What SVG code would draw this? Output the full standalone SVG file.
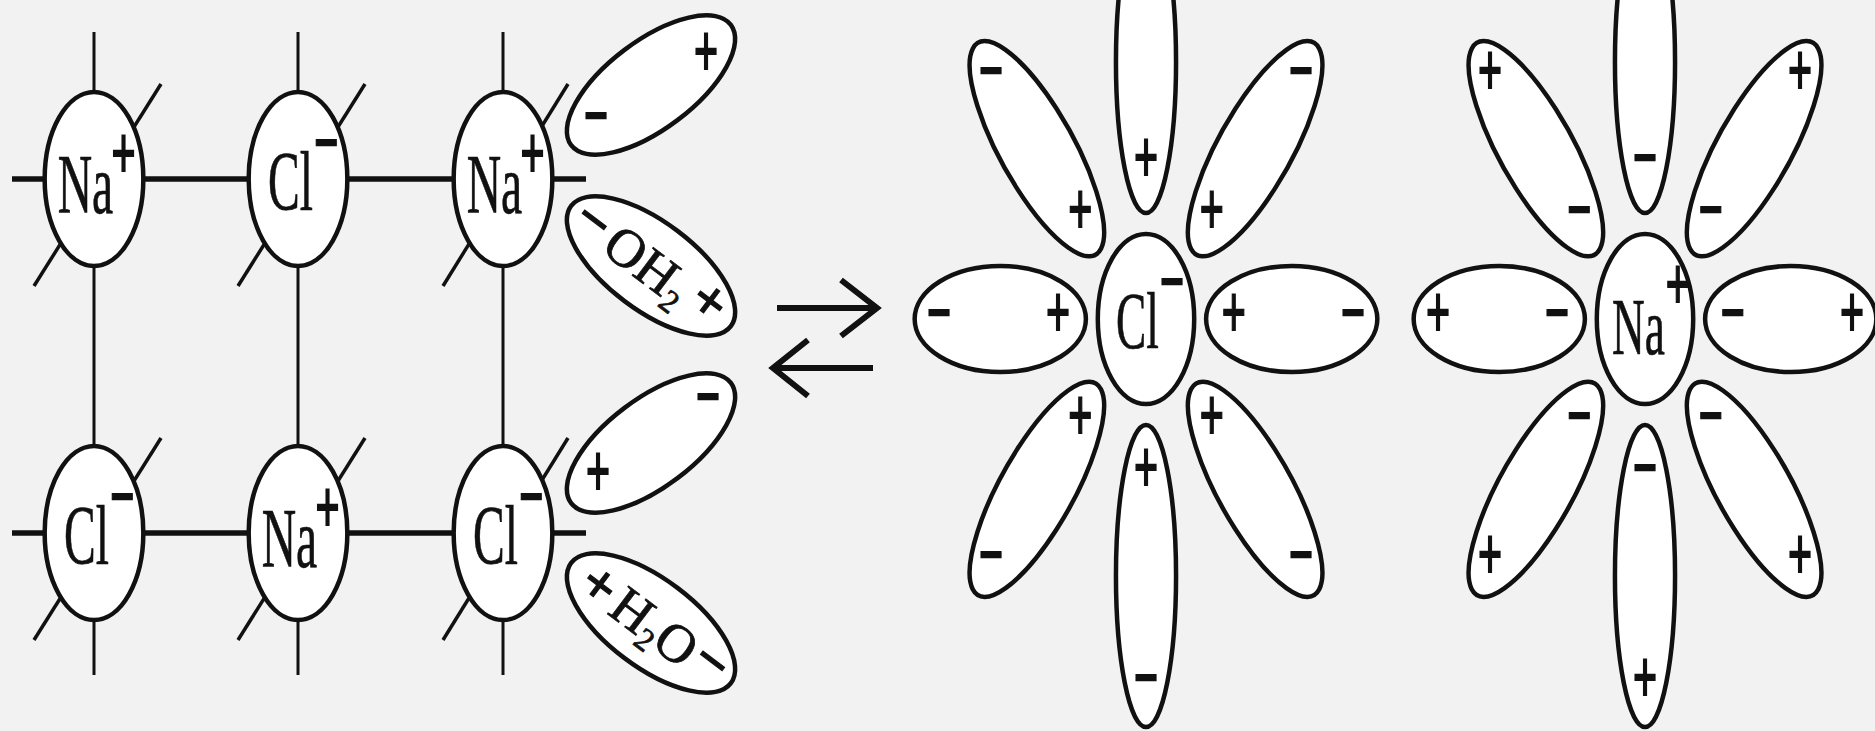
<svg xmlns="http://www.w3.org/2000/svg" width="1875" height="731" viewBox="0 0 1875 731">
<style>
.ln{stroke:#111;fill:none}
.h{stroke-width:5.5}
.v{stroke-width:3}
.d{stroke-width:3.5}
.shape{fill:#fff;stroke:#111;stroke-width:4.5;vector-effect:non-scaling-stroke}
.t{font-family:"Liberation Serif","Times New Roman",serif;fill:#111}
.ion{font-size:84px;stroke:#111;stroke-width:0.6;vector-effect:non-scaling-stroke}
.fion{font-size:80px;stroke:#111;stroke-width:0.6;vector-effect:non-scaling-stroke}
.sg{font-size:76px;font-weight:bold;text-anchor:middle;stroke:#111;stroke-width:1.6;vector-effect:non-scaling-stroke}
.w{font-size:54px;stroke:#111;stroke-width:0.8}
.ws{font-size:58px;font-weight:bold;text-anchor:middle;stroke:#111;stroke-width:1.2}
.arr{stroke:#111;stroke-width:6;fill:none;stroke-linejoin:miter;stroke-linecap:butt}
</style>
<rect width="1875" height="731" fill="#f2f2f2"/>

<g id="connectors">
  <line class="ln h" x1="12" y1="179" x2="586" y2="179"/>
  <line class="ln h" x1="12" y1="533" x2="586" y2="533"/>
  <line class="ln v" x1="94" y1="32" x2="94" y2="675"/>
  <line class="ln v" x1="298" y1="32" x2="298" y2="675"/>
  <line class="ln v" x1="503" y1="32" x2="503" y2="675"/>
  <line class="ln d" x1="161" y1="84" x2="34" y2="286"/>
  <line class="ln d" x1="365" y1="84" x2="238" y2="286"/>
  <line class="ln d" x1="568" y1="84" x2="443" y2="286"/>
  <line class="ln d" x1="161" y1="438" x2="34" y2="640"/>
  <line class="ln d" x1="365" y1="438" x2="238" y2="640"/>
  <line class="ln d" x1="568" y1="438" x2="443" y2="640"/>
</g>

<g id="lattice-na-1" transform="translate(94,179) scale(0.567,1)">
  <circle r="87" class="shape"/>
  <text class="t ion" x="-64" y="34">Na</text>
  <text class="t sg" x="52" y="-19" dy="0.25em">+</text>
</g>
<g id="lattice-cl-1" transform="translate(298,179) scale(0.567,1)">
  <circle r="87" class="shape"/>
  <text class="t ion" x="-53" y="31">Cl</text>
  <text class="t sg" x="50" y="-30" dy="0.25em">−</text>
</g>
<g id="lattice-na-2" transform="translate(503,179) scale(0.567,1)">
  <circle r="87" class="shape"/>
  <text class="t ion" x="-64" y="34">Na</text>
  <text class="t sg" x="52" y="-19" dy="0.25em">+</text>
</g>
<g id="lattice-cl-2" transform="translate(94,533) scale(0.567,1)">
  <circle r="87" class="shape"/>
  <text class="t ion" x="-53" y="31">Cl</text>
  <text class="t sg" x="50" y="-30" dy="0.25em">−</text>
</g>
<g id="lattice-na-3" transform="translate(298,533) scale(0.567,1)">
  <circle r="87" class="shape"/>
  <text class="t ion" x="-64" y="34">Na</text>
  <text class="t sg" x="52" y="-19" dy="0.25em">+</text>
</g>
<g id="lattice-cl-3" transform="translate(503,533) scale(0.567,1)">
  <circle r="87" class="shape"/>
  <text class="t ion" x="-53" y="31">Cl</text>
  <text class="t sg" x="50" y="-30" dy="0.25em">−</text>
</g>

<g id="water-1">
  <ellipse cx="651" cy="85" rx="100" ry="44" transform="rotate(-37 651 85)" class="shape"/>
  <text class="t sg" transform="translate(706,58) scale(0.567,1)" dy="0.25em">+</text>
  <text class="t sg" transform="translate(596,122) scale(0.567,1)" dy="0.25em">−</text>
</g>
<g id="water-2" transform="translate(651,266) rotate(37)">
  <ellipse rx="100" ry="44" class="shape"/>
  <text class="t ws" x="-73" y="2" dy="0.25em">−</text>
  <text class="t w" x="-50" y="19">OH<tspan font-size="32" dy="9">2</tspan></text>
  <text class="t ws" x="68" y="-3" dy="0.25em">+</text>
</g>
<g id="water-3">
  <ellipse cx="651" cy="443" rx="100" ry="44" transform="rotate(-37 651 443)" class="shape"/>
  <text class="t sg" transform="translate(598,478) scale(0.567,1)" dy="0.25em">+</text>
  <text class="t sg" transform="translate(708,403) scale(0.567,1)" dy="0.25em">−</text>
</g>
<g id="water-4" transform="translate(651,623) rotate(37)">
  <ellipse rx="100" ry="44" class="shape"/>
  <text class="t ws" x="-64" y="5" dy="0.25em">+</text>
  <text class="t w" x="-42" y="19">H<tspan font-size="32" dy="9">2</tspan><tspan dy="-9">O</tspan></text>
  <text class="t ws" x="72" y="-2" dy="0.25em">−</text>
</g>

<g id="equilibrium-arrows">
  <line class="arr" x1="777" y1="308" x2="874" y2="308"/>
  <polyline class="arr" points="841,280 877,308 841,336"/>
  <line class="arr" x1="776" y1="368" x2="873" y2="368"/>
  <polyline class="arr" points="808,340 773,368 808,396"/>
</g>

<g id="hydrated-cl" transform="translate(1146,319) scale(0.567,1)">
  <g transform="rotate(-90)"><ellipse cx="257" rx="151" ry="53" class="shape"/><text class="t sg" transform="translate(155 0) rotate(90)" dy="0.25em">+</text></g>
  <g transform="rotate(-41.5)"><ellipse cx="257" rx="151" ry="53" class="shape"/><text class="t sg" transform="translate(155 0) rotate(41.5)" dy="0.25em">+</text><text class="t sg" transform="translate(365 0) rotate(41.5)" dy="0.25em">−</text></g>
  <g transform="rotate(0)"><ellipse cx="257" rx="151" ry="53" class="shape"/><text class="t sg" transform="translate(155 0)" dy="0.25em">+</text><text class="t sg" transform="translate(365 0)" dy="0.25em">−</text></g>
  <g transform="rotate(41.5)"><ellipse cx="257" rx="151" ry="53" class="shape"/><text class="t sg" transform="translate(155 0) rotate(-41.5)" dy="0.25em">+</text><text class="t sg" transform="translate(365 0) rotate(-41.5)" dy="0.25em">−</text></g>
  <g transform="rotate(90)"><ellipse cx="257" rx="151" ry="53" class="shape"/><text class="t sg" transform="translate(155 0) rotate(-90)" dy="0.25em">+</text><text class="t sg" transform="translate(365 0) rotate(-90)" dy="0.25em">−</text></g>
  <g transform="rotate(138.5)"><ellipse cx="257" rx="151" ry="53" class="shape"/><text class="t sg" transform="translate(155 0) rotate(-138.5)" dy="0.25em">+</text><text class="t sg" transform="translate(365 0) rotate(-138.5)" dy="0.25em">−</text></g>
  <g transform="rotate(180)"><ellipse cx="257" rx="151" ry="53" class="shape"/><text class="t sg" transform="translate(155 0) rotate(-180)" dy="0.25em">+</text><text class="t sg" transform="translate(365 0) rotate(-180)" dy="0.25em">−</text></g>
  <g transform="rotate(-138.5)"><ellipse cx="257" rx="151" ry="53" class="shape"/><text class="t sg" transform="translate(155 0) rotate(138.5)" dy="0.25em">+</text><text class="t sg" transform="translate(365 0) rotate(138.5)" dy="0.25em">−</text></g>
  <circle r="85" class="shape"/>
  <text class="t fion" x="-53" y="29">Cl</text>
  <text class="t sg" x="46" y="-31" dy="0.25em">−</text>
</g>

<g id="hydrated-na" transform="translate(1645,319) scale(0.567,1)">
  <g transform="rotate(-90)"><ellipse cx="257" rx="151" ry="53" class="shape"/><text class="t sg" transform="translate(155 0) rotate(90)" dy="0.25em">−</text></g>
  <g transform="rotate(-41.5)"><ellipse cx="257" rx="151" ry="53" class="shape"/><text class="t sg" transform="translate(155 0) rotate(41.5)" dy="0.25em">−</text><text class="t sg" transform="translate(365 0) rotate(41.5)" dy="0.25em">+</text></g>
  <g transform="rotate(0)"><ellipse cx="257" rx="151" ry="53" class="shape"/><text class="t sg" transform="translate(155 0)" dy="0.25em">−</text><text class="t sg" transform="translate(365 0)" dy="0.25em">+</text></g>
  <g transform="rotate(41.5)"><ellipse cx="257" rx="151" ry="53" class="shape"/><text class="t sg" transform="translate(155 0) rotate(-41.5)" dy="0.25em">−</text><text class="t sg" transform="translate(365 0) rotate(-41.5)" dy="0.25em">+</text></g>
  <g transform="rotate(90)"><ellipse cx="257" rx="151" ry="53" class="shape"/><text class="t sg" transform="translate(155 0) rotate(-90)" dy="0.25em">−</text><text class="t sg" transform="translate(365 0) rotate(-90)" dy="0.25em">+</text></g>
  <g transform="rotate(138.5)"><ellipse cx="257" rx="151" ry="53" class="shape"/><text class="t sg" transform="translate(155 0) rotate(-138.5)" dy="0.25em">−</text><text class="t sg" transform="translate(365 0) rotate(-138.5)" dy="0.25em">+</text></g>
  <g transform="rotate(180)"><ellipse cx="257" rx="151" ry="53" class="shape"/><text class="t sg" transform="translate(155 0) rotate(-180)" dy="0.25em">−</text><text class="t sg" transform="translate(365 0) rotate(-180)" dy="0.25em">+</text></g>
  <g transform="rotate(-138.5)"><ellipse cx="257" rx="151" ry="53" class="shape"/><text class="t sg" transform="translate(155 0) rotate(138.5)" dy="0.25em">−</text><text class="t sg" transform="translate(365 0) rotate(138.5)" dy="0.25em">+</text></g>
  <circle r="85" class="shape"/>
  <text class="t fion" x="-58" y="35">Na</text>
  <text class="t sg" x="58" y="-28" dy="0.25em">+</text>
</g>
</svg>
